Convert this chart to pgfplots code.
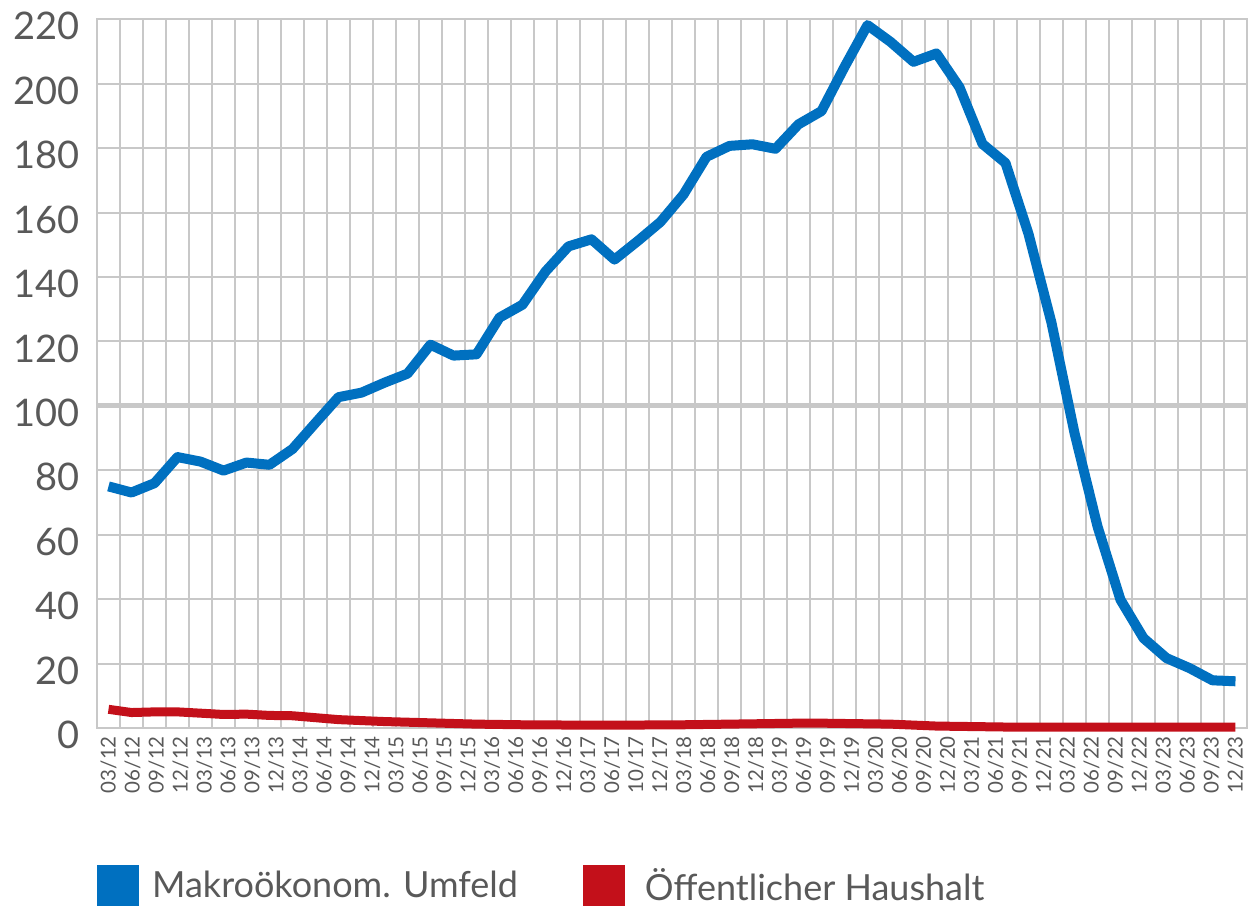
\documentclass[border=0pt]{standalone}
\usepackage{fontspec}
\setmainfont{Lato}
\usepackage{pgfplots}
\pgfplotsset{compat=1.18}
\definecolor{gridgray}{RGB}{200,200,200}
\definecolor{tickgray}{RGB}{89,89,89}
\definecolor{lblue}{RGB}{0,112,192}
\definecolor{lred}{RGB}{195,16,26}
\begin{document}
\begin{tikzpicture}
\path[use as bounding box] (0,0) rectangle (1248pt,907pt);
\begin{axis}[
  at={(97pt,179pt)}, anchor=south west,
  scale only axis, width=1150pt, height=708.7pt,
  xmin=-0.5, xmax=49.5, ymin=0, ymax=220,
  clip=false,
  axis line style={gridgray, line width=2pt},
  major tick length=0pt, minor tick length=0pt,
  tick style={draw=none},
  /pgf/number format/assume math mode=true,
  ytick={0,20,...,220},
  ymajorgrids,
  grid style={gridgray, line width=2pt},
  minor xtick={0.5,1.5,...,48.5},
  xminorgrids,
  minor grid style={gridgray, line width=2pt},
  extra y ticks={100},
  extra y tick labels={},
  extra y tick style={grid style={gridgray, line width=5pt}},
  yticklabel style={font=\fontsize{38}{44}\selectfont, text=tickgray, inner sep=0pt, yshift=-7pt},
  yticklabel shift=17pt,
  xtick={0,1.0426,2.0851,3.1277,4.1702,5.2128,6.2553,7.2979,8.3404,9.3830,10.4255,11.4681,12.5106,13.5532,14.5957,15.6383,16.6809,17.7234,18.7660,19.8085,20.8511,21.8936,22.9362,23.9787,25.0213,26.0638,27.1064,28.1489,29.1915,30.2340,31.2766,32.3191,33.3617,34.4043,35.4468,36.4894,37.5319,38.5745,39.6170,40.6596,41.7021,42.7447,43.7872,44.8298,45.8723,46.9149,47.9574,49},
  xticklabels={03/12,06/12,09/12,12/12,03/13,06/13,09/13,12/13,03/14,06/14,09/14,12/14,03/15,06/15,09/15,12/15,03/16,06/16,09/16,12/16,03/17,06/17,10/17,12/17,03/18,06/18,09/18,12/18,03/19,06/19,09/19,12/19,03/20,06/20,09/20,12/20,03/21,06/21,09/21,12/21,03/22,06/22,09/22,12/22,03/23,06/23,09/23,12/23},
  xticklabel style={font=\fontsize{20.5}{24}\selectfont, text=tickgray, rotate=90, anchor=east, inner sep=0pt},
  xticklabel shift=8pt,
  legend columns=2,
  legend style={at={(0,-0.2222)}, anchor=west, draw=none, fill=none, inner sep=0pt,
    font=\fontsize{36}{42}\selectfont, text=tickgray,
    nodes={inner sep=0pt, anchor=west},
    column sep=13pt,
    /tikz/every even column/.append style={column sep=65pt},
    /tikz/column 3/.append style={column sep=20pt}},
  legend image code/.code={\fill[#1, draw=none] (0pt,-20.5pt) rectangle (42pt,20.5pt);},
]
\addplot[lblue, line width=10pt, line join=round] coordinates {
(0,75.0)(1,73.1)(2,76.0)(3,84.1)(4,82.7)(5,79.9)(6,82.4)(7,81.7)(8,86.6)(9,94.7)
(10,102.7)(11,104.1)(12,107.2)(13,110.0)(14,119.0)(15,115.6)(16,116.0)(17,127.4)(18,131.4)(19,141.7)
(20,149.5)(21,151.7)(22,145.4)(23,151.1)(24,157.1)(25,165.6)(26,177.3)(27,180.7)(28,181.2)(29,179.8)
(30,187.4)(31,191.5)(32,205.2)(33,218.2)(34,213.0)(35,206.8)(36,209.4)(37,198.9)(38,181.3)(39,175.4)
(40,153.4)(41,125.8)(42,91.6)(43,62.6)(44,39.8)(45,27.9)(46,21.7)(47,18.6)(48,14.8)(49,14.5)
};
\addlegendentry{Makroökonom. Umfeld}
\addplot[lred, line width=9pt, line join=round] coordinates {
(0,5.8)(1,4.8)(2,5.0)(3,5.0)(4,4.6)(5,4.2)(6,4.3)(7,3.9)(8,3.8)(9,3.2)
(10,2.6)(11,2.3)(12,2.0)(13,1.8)(14,1.6)(15,1.4)(16,1.2)(17,1.1)(18,1.0)(19,1.0)
(20,0.9)(21,0.9)(22,0.9)(23,0.9)(24,1.0)(25,1.0)(26,1.1)(27,1.2)(28,1.3)(29,1.4)
(30,1.5)(31,1.5)(32,1.4)(33,1.3)(34,1.2)(35,0.9)(36,0.6)(37,0.5)(38,0.4)(39,0.3)
(40,0.3)(41,0.3)(42,0.3)(43,0.3)(44,0.3)(45,0.3)(46,0.3)(47,0.3)(48,0.3)(49,0.3)
};
\addlegendentry{Öffentlicher Haushalt}
\end{axis}
\end{tikzpicture}
\end{document}
